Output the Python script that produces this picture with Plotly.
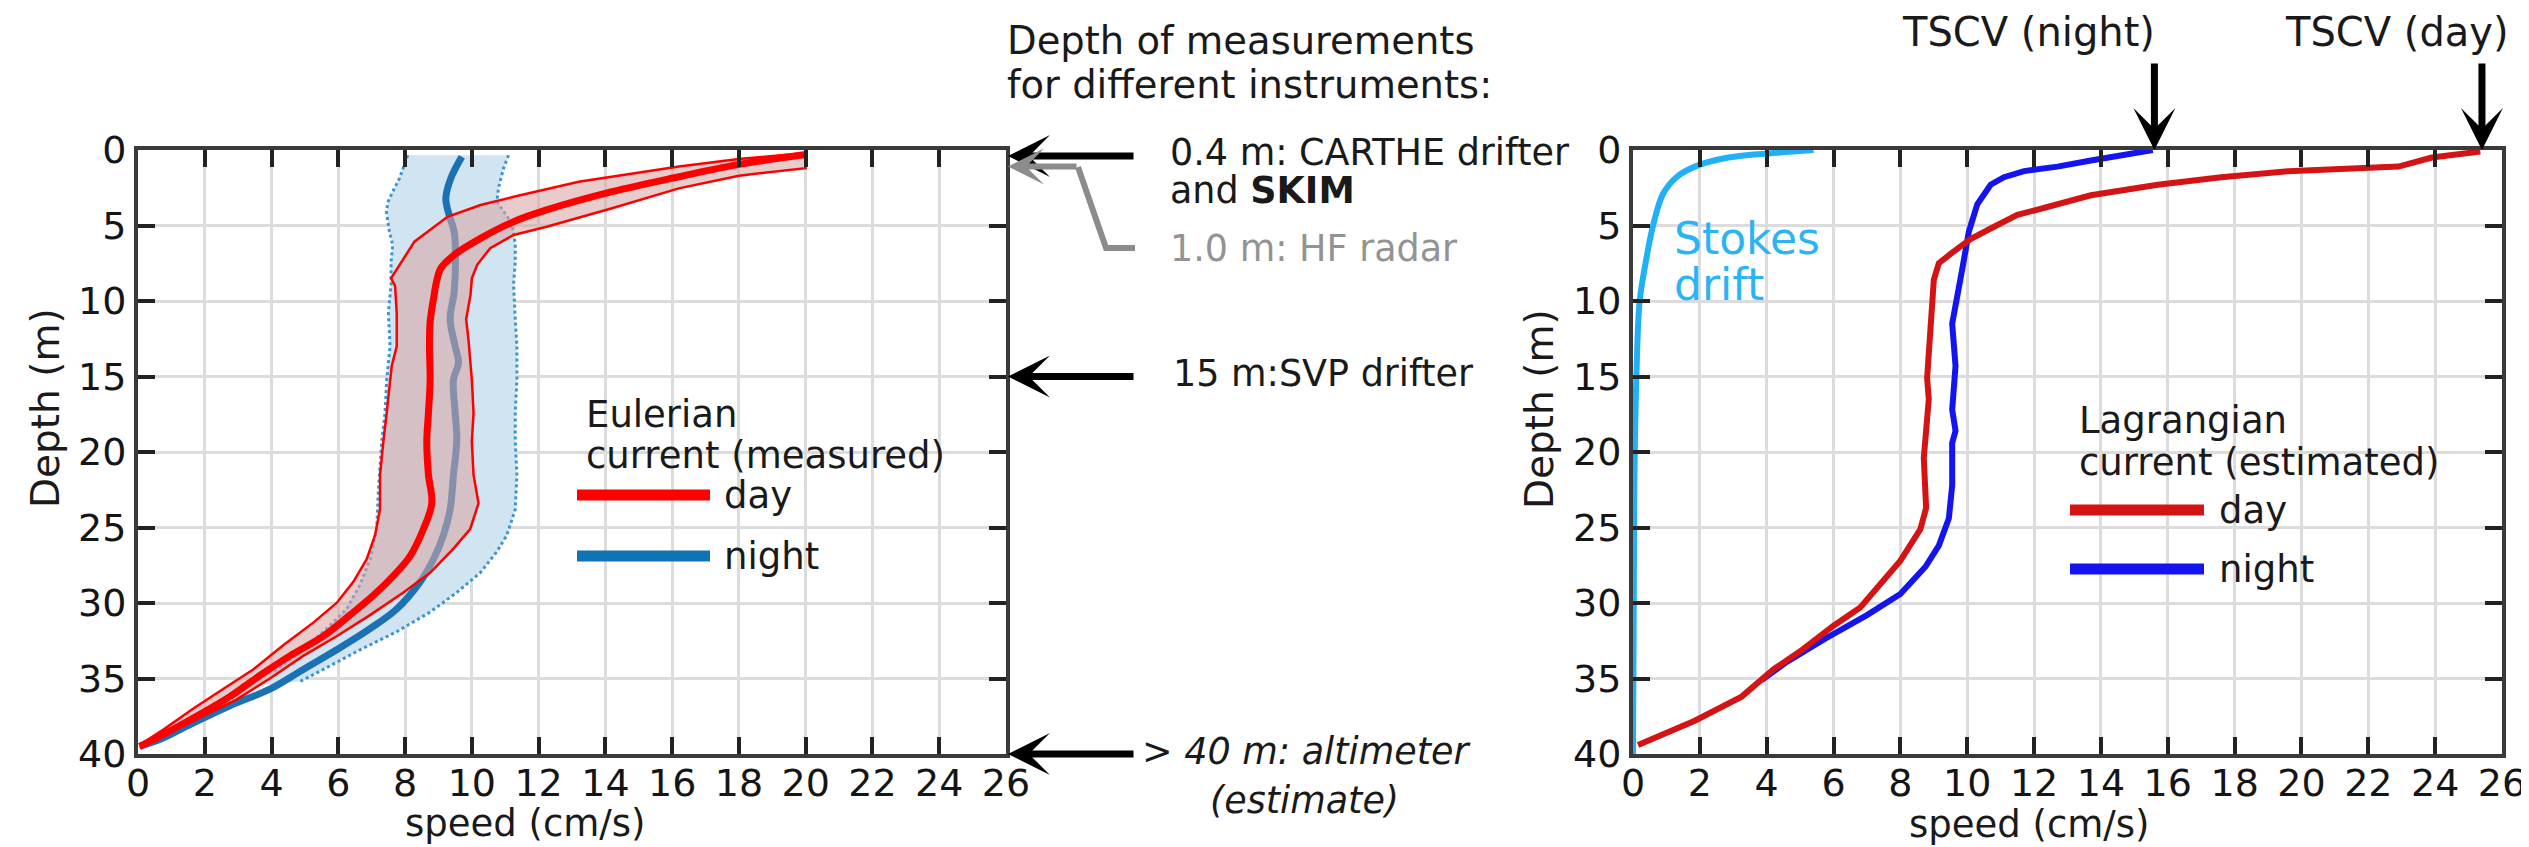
import plotly.graph_objects as go

W, H = 2529, 847
OFF = 8                      # default page body margin of the written html
FW, FH = W - OFF, H - OFF    # figure size so that it exactly fills the window

# ---------------- data: left panel (Eulerian, measured) ----------------
eul_day_mean_depth = [0.3, 0.95, 1.77, 2.76, 3.97, 4.75, 5.85, 6.95, 7.84, 8.94, 9.6, 11.4, 13.0, 15.2, 17.4,
                      19.3, 21.5, 23.4, 25.1, 26.9, 28.2, 29.5, 30.8, 32.2, 33.5, 34.8, 36.2, 37.5, 38.6, 39.5]
eul_day_mean_speed = [20.0, 18.0, 16.2, 14.2, 12.24, 11.25, 10.26, 9.47, 9.07, 8.92, 8.87, 8.75, 8.73, 8.75, 8.7,
                      8.65, 8.7, 8.8, 8.55, 8.15, 7.65, 7.05, 6.35, 5.55, 4.55, 3.65, 2.75, 1.75, 0.85, 0.05]

eul_day_lo_depth = [0.2, 0.6, 1.1, 2.1, 3.1, 3.64, 4.42, 6.07, 8.5, 9.0, 10.8, 13.0, 14.3, 15.2, 17.4, 19.3,
                    21.5, 23.8, 25.5, 27.1, 28.6, 30.0, 31.3, 32.8, 34.4, 35.7, 37.0, 38.4, 39.4]
eul_day_lo_speed = [20.0, 18.0, 16.2, 13.2, 11.25, 10.26, 9.27, 8.28, 7.58, 7.7, 7.75, 7.75, 7.6, 7.55, 7.45, 7.35,
                    7.25, 7.25, 7.1, 6.85, 6.45, 5.95, 5.25, 4.35, 3.45, 2.55, 1.65, 0.75, 0.05]

eul_day_hi_depth = [0.2, 1.2, 1.7, 2.54, 3.86, 5.08, 5.63, 6.5, 7.6, 8.5, 9.6, 11.2, 12.6, 15.2, 17.4, 19.3,
                    21.5, 23.4, 25.1, 26.4, 28.0, 29.3, 30.8, 32.2, 33.5, 35.0, 36.4, 37.7, 38.8, 39.6]
eul_day_hi_speed = [20.0, 20.0, 18.0, 16.2, 14.2, 12.24, 11.25, 10.55, 10.16, 10.0, 9.96, 9.83, 9.9, 10.0, 10.05, 10.0,
                    10.05, 10.2, 9.95, 9.45, 8.75, 7.95, 6.95, 5.95, 4.95, 3.95, 2.95, 1.75, 0.75, 0.05]

eul_night_mean_depth = [0.45, 1.88, 3.2, 4.3, 5.4, 6.95, 9.4, 11.2, 13.0, 14.1, 15.2, 17.4, 19.2, 21.5, 23.8, 25.5,
                        27.1, 28.6, 30.4, 31.7, 33.1, 34.4, 35.7, 36.8, 38.0, 39.0, 39.5]
eul_night_mean_speed = [9.7, 9.37, 9.22, 9.32, 9.47, 9.51, 9.47, 9.35, 9.5, 9.6, 9.45, 9.5, 9.55, 9.45, 9.35, 9.15,
                        8.85, 8.45, 7.75, 6.95, 5.95, 4.95, 3.95, 2.75, 1.6, 0.7, 0.05]

eul_night_lo_depth = [0.35, 1.88, 2.76, 3.42, 4.08, 5.4, 6.3, 7.4, 8.9, 10.8, 13.0, 15.2, 17.4, 19.3, 22.6, 25.1,
                      27.1, 28.8, 30.4, 31.7, 33.1, 34.4, 35.5]
eul_night_lo_speed = [8.08, 7.83, 7.63, 7.49, 7.44, 7.53, 7.63, 7.58, 7.58, 7.5, 7.55, 7.45, 7.4, 7.3, 7.2, 7.15,
                      6.95, 6.65, 6.25, 5.65, 4.95, 4.15, 3.05]

eul_night_hi_depth = [0.35, 1.2, 2.5, 3.4, 4.86, 6.18, 7.4, 8.9, 11.2, 13.0, 15.2, 17.4, 19.3, 21.5, 23.8, 25.5,
                      26.6, 28.0, 29.3, 30.6, 31.9, 33.1, 34.4, 35.2]
eul_night_hi_speed = [11.1, 10.95, 10.8, 10.75, 11.2, 11.3, 11.3, 11.25, 11.3, 11.35, 11.35, 11.3, 11.3, 11.35, 11.3, 11.05,
                      10.75, 10.25, 9.55, 8.75, 7.75, 6.65, 5.55, 4.85]

# ---------------- data: right panel (Lagrangian, estimated) ----------------
lag_day_depth = [0.1, 0.5, 1.1, 1.25, 1.4, 1.8, 2.3, 3.0, 3.6, 4.3, 5.2, 5.9, 6.8, 7.5, 8.6, 11.5, 15.1, 16.5,
                 20.4, 23.7, 25.1, 27.2, 28.7, 30.3, 31.5, 33.2, 34.4, 36.2, 37.8, 38.9, 39.4]
lag_day_speed = [25.35, 23.9, 22.9, 21.6, 19.6, 17.6, 15.7, 13.7, 12.7, 11.5, 10.7, 10.1, 9.55, 9.15, 9.0, 8.9, 8.8, 8.85,
                 8.7, 8.77, 8.6, 8.0, 7.4, 6.8, 6.0, 5.0, 4.2, 3.25, 1.85, 0.7, 0.15]

lag_night_depth = [0.0, 0.36, 0.7, 1.1, 1.4, 1.8, 2.3, 3.6, 5.4, 7.9, 9.3, 11.5, 14.3, 17.2, 18.6, 19.4, 22.2,
                   24.4, 26.2, 27.6, 29.4, 30.8, 32.3, 33.9, 35.1]
lag_night_speed = [15.55, 14.5, 13.7, 12.7, 11.7, 11.1, 10.7, 10.3, 10.05, 9.85, 9.75, 9.55, 9.65, 9.55, 9.65, 9.55, 9.55,
                   9.45, 9.15, 8.75, 8.0, 7.0, 5.8, 4.6, 3.85]

stokes_depth = [0.0, 0.2, 0.5, 1.1, 1.8, 2.9, 5.0, 7.2, 10.0, 15.1, 22.2, 40.0]
stokes_speed = [5.4, 4.2, 2.85, 1.85, 1.3, 0.9, 0.6, 0.4, 0.2, 0.1, 0.04, 0.0]

tscv_night, tscv_day = 15.6, 25.4

x_ticks = list(range(0, 27, 2))
y_ticks = list(range(0, 41, 5))

instrument_depths = [0.4, 1.1, 15, 40]

# ---------------- helpers (window pixels -> paper fraction) ----------------
def px(x):
    return (x - OFF) / FW

def py(y):
    return 1 - (y - OFF) / FH

FONT = "DejaVu Sans"
RED = "#ff0000"
NIGHT = "#1a72b4"

fig = go.Figure()

# Left panel: night band
fig.add_trace(go.Scatter(
    x=eul_night_hi_speed + eul_night_lo_speed[::-1],
    y=eul_night_hi_depth + eul_night_lo_depth[::-1],
    fill="toself", fillcolor="#d0e4f1", line=dict(width=0), mode="lines",
    xaxis="x", yaxis="y", hoverinfo="skip", showlegend=False))
for xs, ys in [(eul_night_lo_speed, eul_night_lo_depth), (eul_night_hi_speed, eul_night_hi_depth)]:
    fig.add_trace(go.Scatter(x=xs, y=ys, mode="lines",
                             line=dict(color="#3a95d0", width=3, dash="dot"),
                             xaxis="x", yaxis="y", showlegend=False))
fig.add_trace(go.Scatter(x=eul_night_mean_speed, y=eul_night_mean_depth, mode="lines",
                         line=dict(color=NIGHT, width=7, shape="spline"), xaxis="x", yaxis="y",
                         showlegend=False))
# day band
fig.add_trace(go.Scatter(
    x=eul_day_hi_speed + eul_day_lo_speed[::-1],
    y=eul_day_hi_depth + eul_day_lo_depth[::-1],
    fill="toself", fillcolor="rgba(215,165,165,0.58)", line=dict(width=0), mode="lines",
    xaxis="x", yaxis="y", hoverinfo="skip", showlegend=False))
for xs, ys in [(eul_day_lo_speed, eul_day_lo_depth), (eul_day_hi_speed, eul_day_hi_depth)]:
    fig.add_trace(go.Scatter(x=xs, y=ys, mode="lines", line=dict(color=RED, width=2.5),
                             xaxis="x", yaxis="y", showlegend=False))
fig.add_trace(go.Scatter(x=eul_day_mean_speed, y=eul_day_mean_depth, mode="lines",
                         line=dict(color=RED, width=7, shape="spline"), xaxis="x", yaxis="y",
                         showlegend=False))

# Right panel
fig.add_trace(go.Scatter(x=stokes_speed, y=stokes_depth, mode="lines",
                         line=dict(color="#1fb0f5", width=6, shape="spline"),
                         xaxis="x2", yaxis="y2", showlegend=False))
fig.add_trace(go.Scatter(x=lag_night_speed, y=lag_night_depth, mode="lines",
                         line=dict(color="#1414f0", width=6), xaxis="x2", yaxis="y2", showlegend=False))
fig.add_trace(go.Scatter(x=lag_day_speed, y=lag_day_depth, mode="lines",
                         line=dict(color="#d41414", width=6), xaxis="x2", yaxis="y2", showlegend=False))

axis_common = dict(
    automargin=False,
    showgrid=True, gridcolor="#dcdcdc", gridwidth=3,
    showline=True, linecolor="#3a3a3a", linewidth=4, mirror="ticks",
    ticks="inside", ticklen=17, tickwidth=4, tickcolor="#222222",
    tickfont=dict(family=FONT, size=38, color="#151515"),
    zeroline=False,
)

x_dom_left = [px(138), px(1006)]
x_dom_right = [px(1633), px(2502)]
y_dom = [py(754), py(150)]

fig.update_layout(
    template="none",
    width=FW, height=FH,
    margin=dict(l=0, r=0, t=0, b=0, pad=0, autoexpand=False),
    paper_bgcolor="white", plot_bgcolor="white",
    showlegend=False,
    xaxis=dict(domain=x_dom_left, range=[0, 26], tickvals=x_ticks, anchor="y",
               ticklabelstandoff=-8, **axis_common),
    yaxis=dict(domain=y_dom, range=[40, 0], tickvals=y_ticks, anchor="x", **axis_common),
    xaxis2=dict(domain=x_dom_right, range=[0, 26], tickvals=x_ticks, anchor="y2",
                ticklabelstandoff=-8, **axis_common),
    yaxis2=dict(domain=y_dom, range=[40, 0], tickvals=y_ticks, anchor="x2", **axis_common),
)

ann = []
shapes = []

def text(x, y, s, size=36, color="#1a1a1a", xanchor="left", angle=0):
    ann.append(dict(x=px(x), y=py(y), xref="paper", yref="paper", text=s, showarrow=False,
                    xanchor=xanchor, yanchor="middle", textangle=angle,
                    font=dict(family=FONT, size=size, color=color)))

# axis titles
text(525, 823, "speed (cm/s)", size=37, xanchor="center")
text(2029, 824, "speed (cm/s)", size=37, xanchor="center")
text(45, 408, "Depth (m)", size=39, xanchor="center", angle=-90)
text(1540, 409, "Depth (m)", size=39, xanchor="center", angle=-90)

# left legend
text(584, 415, "Eulerian", size=37)
text(584, 455, "current (measured)", size=37)
text(722, 495, "day", size=37)
text(722, 556, "night", size=37)
shapes.append(dict(type="line", xref="paper", yref="paper", x0=px(577), x1=px(710), y0=py(495), y1=py(495),
                   line=dict(color=RED, width=11)))
shapes.append(dict(type="line", xref="paper", yref="paper", x0=px(577), x1=px(710), y0=py(556), y1=py(556),
                   line=dict(color="#0f74b6", width=11)))

# right legend
text(2077, 421, "Lagrangian", size=37)
text(2077, 462, "current (estimated)", size=37)
text(2217, 510, "day", size=37)
text(2217, 569, "night", size=37)
shapes.append(dict(type="line", xref="paper", yref="paper", x0=px(2070), x1=px(2204), y0=py(510), y1=py(510),
                   line=dict(color="#d41414", width=11)))
shapes.append(dict(type="line", xref="paper", yref="paper", x0=px(2070), x1=px(2204), y0=py(569), y1=py(569),
                   line=dict(color="#1414f0", width=11)))

# Stokes drift label
text(1672, 238, "Stokes", size=44, color="#2bb4f5")
text(1672, 284, "drift", size=44, color="#2bb4f5")

# TSCV labels and arrows
text(2028, 32, "TSCV (night)", size=40, xanchor="center")
text(2397, 32, "TSCV (day)", size=40, xanchor="center")
for xv in [tscv_night, tscv_day]:
    ann.append(dict(x=xv, y=0, xref="x2", yref="y2", ax=0, ay=-88, text="", showarrow=True,
                    arrowhead=3, arrowsize=1.0, arrowwidth=7, arrowcolor="#000000", standoff=0))

# middle text
text(1005, 41, "Depth of measurements", size=38.5)
text(1005, 84, "for different instruments:", size=38.5)
text(1168, 153, "0.4 m: CARTHE drifter", size=36.5)
text(1168, 190, "and <b>SKIM</b>", size=36.5)
text(1168, 248, "1.0 m: HF radar", size=36.5, color="#939393")
text(1171, 373, "15 m:SVP drifter", size=36.5)
text(1140, 751, "<i>&gt; 40 m: altimeter</i>", size=36.5)
text(1304, 800, "<i>(estimate)</i>", size=36.5, xanchor="center")

# instrument arrows (tips at the right border of left panel)
for dep in [instrument_depths[0], instrument_depths[2], instrument_depths[3]]:
    ann.append(dict(x=26, y=dep, xref="x", yref="y", ax=129, ay=0, text="", showarrow=True,
                    arrowhead=3, arrowsize=1.0, arrowwidth=7, arrowcolor="#000000", standoff=2))
ann.append(dict(x=26, y=instrument_depths[1], xref="x", yref="y", ax=72, ay=0, text="", showarrow=True,
                arrowhead=3, arrowsize=1.0, arrowwidth=6, arrowcolor="#8c8c8c", standoff=2))
shapes.append(dict(type="path", xref="paper", yref="paper",
                   path=f"M {px(1135)} {py(248)} L {px(1106)} {py(248)} L {px(1078)} {py(167)}",
                   line=dict(color="#8c8c8c", width=6)))

fig.update_layout(annotations=ann, shapes=shapes)
fig.write_html("out.html")
